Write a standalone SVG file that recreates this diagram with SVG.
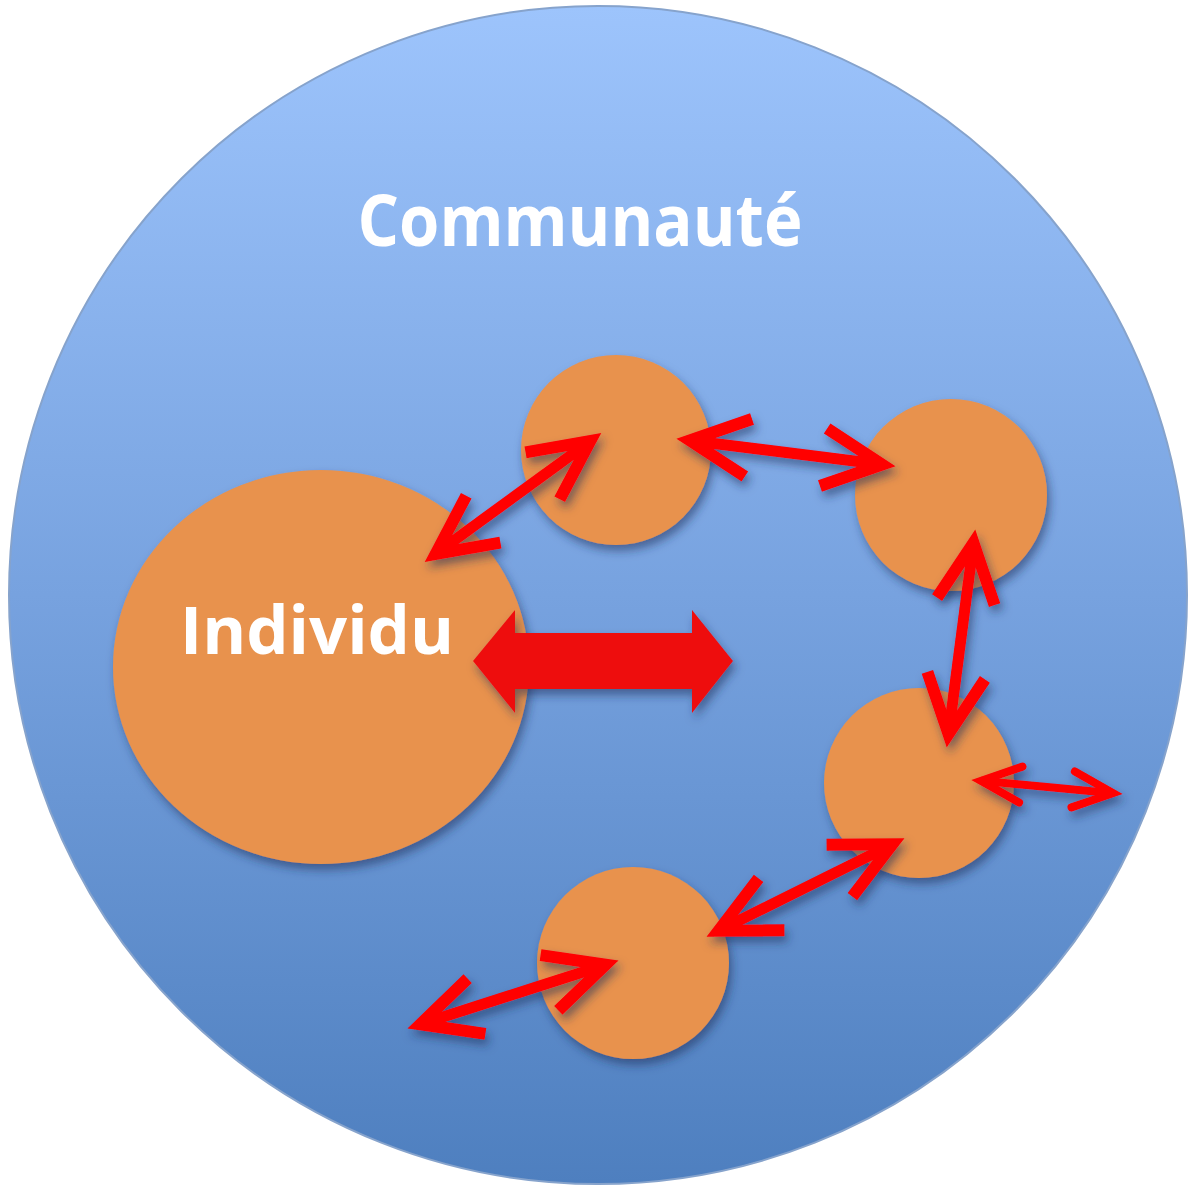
<svg xmlns="http://www.w3.org/2000/svg" width="1193" height="1191" viewBox="0 0 1193 1191">
<style>
.node{fill:#e8924e;}
.lbl{fill:#ffffff;font-family:"Open Sans","Liberation Sans",sans-serif;font-weight:bold;text-anchor:middle;}
.arr{fill:none;stroke:#ff0000;stroke-width:11;}
.arrs{fill:none;stroke:#ff0000;stroke-width:8;}
</style>
<defs>
<linearGradient id="bg" x1="0" y1="0" x2="0" y2="1">
<stop offset="0" stop-color="#9dc4fc"/>
<stop offset="0.5" stop-color="#77a2df"/>
<stop offset="1" stop-color="#4e7fbf"/>
</linearGradient>
<filter id="sh" x="-20%" y="-20%" width="140%" height="140%">
<feDropShadow dx="3" dy="6" stdDeviation="5" flood-color="#1d2f5a" flood-opacity="0.55"/>
</filter>
<marker id="head" viewBox="-70 -40 100 80" markerWidth="100" markerHeight="80" refX="0" refY="0" markerUnits="userSpaceOnUse" orient="auto-start-reverse">
<path d="M-59,-29 L0,0 L-59,29" fill="none" stroke="#ff0000" stroke-width="12" stroke-linejoin="miter" stroke-miterlimit="10"/>
</marker>
<marker id="heads" viewBox="-50 -30 80 60" markerWidth="80" markerHeight="60" refX="0" refY="0" markerUnits="userSpaceOnUse" orient="auto-start-reverse">
<path d="M-40,-18 L0,0 L-40,18" fill="none" stroke="#ff0000" stroke-width="8" stroke-linecap="round" stroke-linejoin="miter" stroke-miterlimit="10"/>
</marker>
</defs>
<g id="communaute">
<circle cx="598" cy="595" r="589" fill="url(#bg)" stroke="#86a3cc" stroke-width="2"/>
<text class="lbl" x="580" y="246" font-size="72" textLength="445" lengthAdjust="spacingAndGlyphs">Communauté</text>
</g>
<g id="individu" filter="url(#sh)">
<ellipse class="node" cx="321" cy="667" rx="208" ry="197"/>
</g>
<g id="individu-label"><text class="lbl" x="317" y="654" font-size="67">Individu</text></g>
<g id="n1" filter="url(#sh)"><circle class="node" cx="616" cy="450" r="95"/></g>
<g id="n2" filter="url(#sh)"><circle class="node" cx="951" cy="495" r="96"/></g>
<g id="n3" filter="url(#sh)"><circle class="node" cx="919" cy="783" r="95"/></g>
<g id="n4" filter="url(#sh)"><circle class="node" cx="633" cy="963" r="96"/></g>
<g id="connectors" filter="url(#sh)">
<path class="arr" d="M435.7,553.9 L590.3,441.1" marker-start="url(#head)" marker-end="url(#head)"/>
<path class="arr" d="M689.9,440.5 L882.1,464.5" marker-start="url(#head)" marker-end="url(#head)"/>
<path class="arr" d="M973.5,542.9 L948.5,734.1" marker-start="url(#head)" marker-end="url(#head)"/>
<path class="arrs" d="M981,780.8 L1113,793.2" marker-start="url(#heads)" marker-end="url(#heads)"/>
<path class="arr" d="M892.3,844.3 L718.7,930.7" marker-start="url(#head)" marker-end="url(#head)"/>
<path class="arr" d="M420.4,1024.3 L605.6,964.7" marker-start="url(#head)" marker-end="url(#head)"/>
<path d="M473,661 L515,610 L515,633 L692,633 L692,610 L733,661 L692,713 L692,689 L515,689 L515,713 Z" fill="#ee1111"/>
</g>
</svg>
